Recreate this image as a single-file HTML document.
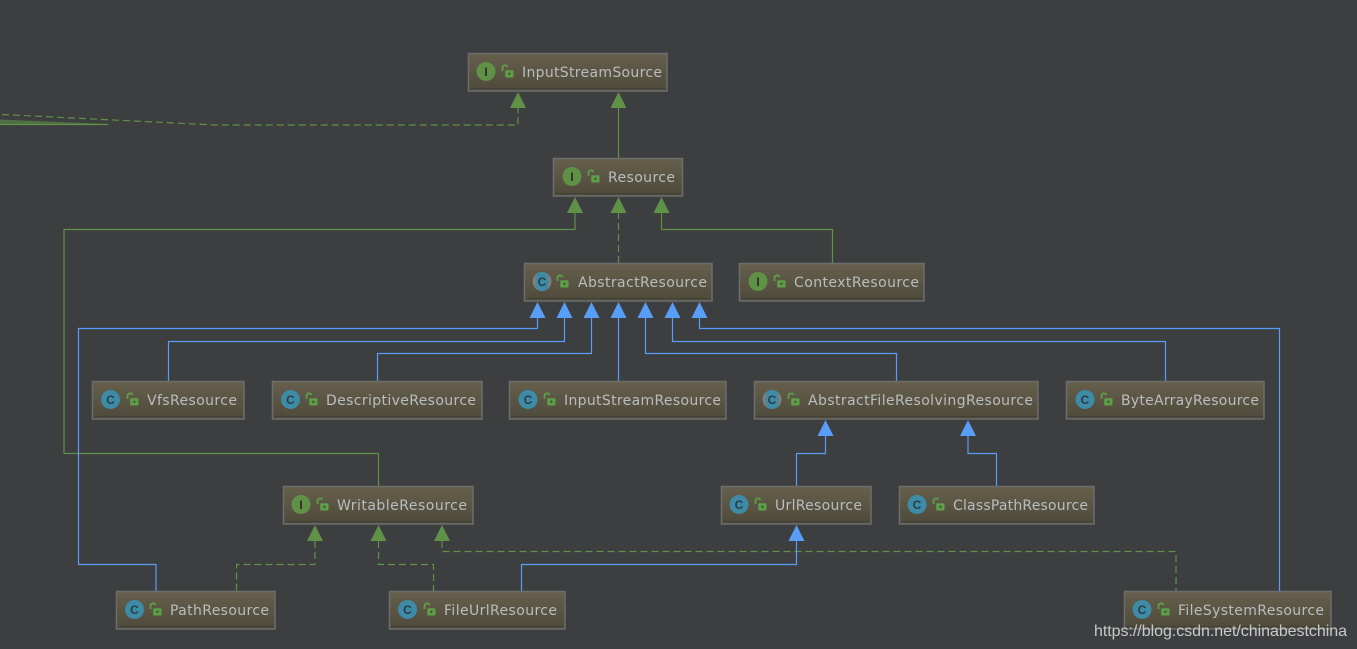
<!DOCTYPE html>
<html>
<head>
<meta charset="utf-8">
<style>
html,body{margin:0;padding:0;width:1357px;height:649px;overflow:hidden;background:#3c3e40}
svg{display:block}
.n{font-family:"DejaVu Sans",sans-serif;font-size:14px;fill:#b9bdbf}
.g{fill:none;stroke:#5f9147;stroke-width:1.2}
.gd{fill:none;stroke:#5f9147;stroke-width:1.2;stroke-dasharray:7 4}
.b{fill:none;stroke:#589df6;stroke-width:1.2}
.ga{fill:#5f9147}
.ba{fill:#589df6}
.box{fill:url(#bg);stroke:#6c6e6e;stroke-width:1.5}
.ic{fill:#5f9147}
.cc{fill:#3d8ba6}
.t{font-family:"Liberation Sans",sans-serif;font-size:12px;font-weight:bold;text-anchor:middle}
.band{fill:none;stroke:#444238;stroke-width:1}
</style>
</head>
<body>
<svg width="1357" height="649" viewBox="0 0 1357 649" xmlns="http://www.w3.org/2000/svg">
<defs>
<linearGradient id="bg" x1="0" y1="0" x2="0" y2="1">
<stop offset="0" stop-color="#665f4c"/>
<stop offset="1" stop-color="#4e4a3b"/>
</linearGradient>
<g id="lock">
<path d="M-5.500 -1 v-3.200 a2.600 2.600 0 0 1 5 -0.800" fill="none" stroke="#5f9e48" stroke-width="1.800"/>
<rect x="-2.800" y="-1.800" width="8.300" height="7.300" rx="1" fill="#5f9e48"/>
<rect x="0.500" y="0.700" width="1.800" height="2.200" fill="#3f4a35"/>
</g>
</defs>
<rect width="1357" height="649" fill="#3c3e40"/>

<!-- left stray lines -->
<path class="gd" d="M2 114.500 L215 125 H518 V108"/>
<path d="M0 119.500 L108 124 L108 125 L0 125Z" fill="#5f9147" opacity="0.6"/>
<path class="g" d="M0 124.500H108"/>

<!-- green connectors -->
<path class="g" d="M618.500 158V108"/>
<path class="g" d="M378.500 486V453.500H64V229.500H575V213"/>
<path class="gd" d="M618.500 263V213"/>
<path class="g" d="M661.500 213V229.500H832.500V263"/>
<path class="gd" d="M315 541V564.500H236.500V591"/>
<path class="gd" d="M378.500 541V564.500H433.500V591"/>
<path class="gd" d="M442 541V551.500H1176V591"/>

<!-- blue connectors -->
<path class="b" d="M537.500 318V328.500H78.500V564.500H156V591"/>
<path class="b" d="M564.500 318V341.500H168.500V381"/>
<path class="b" d="M591.500 318V353.500H377.500V381"/>
<path class="b" d="M618.500 318V381"/>
<path class="b" d="M645.500 318V353.500H896.500V381"/>
<path class="b" d="M672.500 318V341.500H1165.500V381"/>
<path class="b" d="M699.500 318V328.500H1279.500V591"/>
<path class="b" d="M825.500 436V453.500H796.500V486"/>
<path class="b" d="M968 436V453.500H996.500V486"/>
<path class="b" d="M796.500 541V564.500H521.500V591"/>

<!-- green arrowheads -->
<g class="ga">
<path d="M518 92l8 16h-16z"/>
<path d="M618.500 92l8 16h-16z"/>
<path d="M575 197l8 16h-16z"/>
<path d="M618.500 197l8 16h-16z"/>
<path d="M661.500 197l8 16h-16z"/>
<path d="M315 525l8 16h-16z"/>
<path d="M378.500 525l8 16h-16z"/>
<path d="M442 525l8 16h-16z"/>
</g>
<!-- blue arrowheads -->
<g class="ba">
<path d="M537.500 302l8 16h-16z"/>
<path d="M564.500 302l8 16h-16z"/>
<path d="M591.500 302l8 16h-16z"/>
<path d="M618.500 302l8 16h-16z"/>
<path d="M645.500 302l8 16h-16z"/>
<path d="M672.500 302l8 16h-16z"/>
<path d="M699.500 302l8 16h-16z"/>
<path d="M825.500 420l8 16h-16z"/>
<path d="M968 420l8 16h-16z"/>
<path d="M796.500 525l8 16h-16z"/>
</g>

<!-- InputStreamSource -->
<rect class="box" x="468.500" y="53.500" width="198.500" height="37.500"/>
<path class="band" d="M470 88.500H666"/>
<circle class="ic" cx="486" cy="71.500" r="9.500"/><text class="t" x="486" y="76" fill="#2b2b2b">I</text>
<use href="#lock" x="508" y="72"/>
<text class="n" x="522" y="77" textLength="140">InputStreamSource</text>

<!-- Resource -->
<rect class="box" x="553.500" y="158.500" width="129" height="37.500"/>
<path class="band" d="M555 193.500H681"/>
<circle class="ic" cx="572" cy="176.500" r="9.500"/><text class="t" x="572" y="181" fill="#2b2b2b">I</text>
<use href="#lock" x="594" y="177"/>
<text class="n" x="608" y="182" textLength="67">Resource</text>

<!-- AbstractResource -->
<rect class="box" x="524.500" y="263.500" width="187.500" height="37.500"/>
<path class="band" d="M526 298.500H711"/>
<circle cx="542" cy="281.500" r="9.500" fill="#7c7f81"/><rect class="cc" x="536" y="272" width="12" height="19" rx="5"/><text class="t" x="542" y="286" fill="#2c3c44">C</text>
<use href="#lock" x="563" y="282"/>
<text class="n" x="578" y="287" textLength="129">AbstractResource</text>

<!-- ContextResource -->
<rect class="box" x="739.500" y="263.500" width="184.500" height="37.500"/>
<path class="band" d="M741 298.500H923"/>
<circle class="ic" cx="758" cy="281.500" r="9.500"/><text class="t" x="758" y="286" fill="#2b2b2b">I</text>
<use href="#lock" x="780" y="282"/>
<text class="n" x="794" y="287" textLength="125">ContextResource</text>

<!-- VfsResource -->
<rect class="box" x="92.500" y="381.500" width="151.500" height="37.500"/>
<path class="band" d="M94 416.500H243"/>
<circle class="cc" cx="110.500" cy="399.500" r="9.500"/><text class="t" x="110.500" y="404" fill="#2c3c44">C</text>
<use href="#lock" x="133" y="400"/>
<text class="n" x="147" y="405" textLength="90">VfsResource</text>

<!-- DescriptiveResource -->
<rect class="box" x="272.500" y="381.500" width="209.500" height="37.500"/>
<path class="band" d="M274 416.500H481"/>
<circle class="cc" cx="290.500" cy="399.500" r="9.500"/><text class="t" x="290.500" y="404" fill="#2c3c44">C</text>
<use href="#lock" x="312" y="400"/>
<text class="n" x="326" y="405" textLength="150">DescriptiveResource</text>

<!-- InputStreamResource -->
<rect class="box" x="509.500" y="381.500" width="216.500" height="37.500"/>
<path class="band" d="M511 416.500H725"/>
<circle class="cc" cx="528" cy="399.500" r="9.500"/><text class="t" x="528" y="404" fill="#2c3c44">C</text>
<use href="#lock" x="550" y="400"/>
<text class="n" x="564" y="405" textLength="157">InputStreamResource</text>

<!-- AbstractFileResolvingResource -->
<rect class="box" x="754.500" y="381.500" width="283.500" height="37.500"/>
<path class="band" d="M756 416.500H1037"/>
<circle cx="772" cy="399.500" r="9.500" fill="#7c7f81"/><rect class="cc" x="766" y="390" width="12" height="19" rx="5"/><text class="t" x="772" y="404" fill="#2c3c44">C</text>
<use href="#lock" x="794" y="400"/>
<text class="n" x="808" y="405" textLength="225">AbstractFileResolvingResource</text>

<!-- ByteArrayResource -->
<rect class="box" x="1066.500" y="381.500" width="197.500" height="37.500"/>
<path class="band" d="M1068 416.500H1263"/>
<circle class="cc" cx="1085" cy="399.500" r="9.500"/><text class="t" x="1085" y="404" fill="#2c3c44">C</text>
<use href="#lock" x="1107" y="400"/>
<text class="n" x="1121" y="405" textLength="138">ByteArrayResource</text>

<!-- WritableResource -->
<rect class="box" x="283.500" y="486.500" width="189.500" height="37.500"/>
<path class="band" d="M285 521.500H472"/>
<circle class="ic" cx="301" cy="504.500" r="9.500"/><text class="t" x="301" y="509" fill="#2b2b2b">I</text>
<use href="#lock" x="323" y="505"/>
<text class="n" x="337" y="510" textLength="130">WritableResource</text>

<!-- UrlResource -->
<rect class="box" x="721.500" y="486.500" width="149.500" height="37.500"/>
<path class="band" d="M723 521.500H870"/>
<circle class="cc" cx="739" cy="504.500" r="9.500"/><text class="t" x="739" y="509" fill="#2c3c44">C</text>
<use href="#lock" x="761" y="505"/>
<text class="n" x="775" y="510" textLength="87">UrlResource</text>

<!-- ClassPathResource -->
<rect class="box" x="899.500" y="486.500" width="194.500" height="37.500"/>
<path class="band" d="M901 521.500H1093"/>
<circle class="cc" cx="917" cy="504.500" r="9.500"/><text class="t" x="917" y="509" fill="#2c3c44">C</text>
<use href="#lock" x="939" y="505"/>
<text class="n" x="953" y="510" textLength="135">ClassPathResource</text>

<!-- PathResource -->
<rect class="box" x="116.500" y="591.500" width="158.500" height="37.500"/>
<path class="band" d="M118 626.500H274"/>
<circle class="cc" cx="134.500" cy="609.500" r="9.500"/><text class="t" x="134.500" y="614" fill="#2c3c44">C</text>
<use href="#lock" x="156" y="610"/>
<text class="n" x="170" y="615" textLength="99">PathResource</text>

<!-- FileUrlResource -->
<rect class="box" x="389.500" y="591.500" width="175.500" height="37.500"/>
<path class="band" d="M391 626.500H564"/>
<circle class="cc" cx="407.500" cy="609.500" r="9.500"/><text class="t" x="407.500" y="614" fill="#2c3c44">C</text>
<use href="#lock" x="430" y="610"/>
<text class="n" x="444" y="615" textLength="113">FileUrlResource</text>

<!-- FileSystemResource -->
<rect class="box" x="1124.500" y="591.500" width="206.500" height="37.500"/>
<path class="band" d="M1126 626.500H1330"/>
<circle class="cc" cx="1142" cy="609.500" r="9.500"/><text class="t" x="1142" y="614" fill="#2c3c44">C</text>
<use href="#lock" x="1164" y="610"/>
<text class="n" x="1178" y="615" textLength="146">FileSystemResource</text>

<!-- watermark -->
<text x="1094" y="636" font-family="'Liberation Sans',sans-serif" font-size="16" fill="#c9c9c9" textLength="253" style="filter:blur(.3px)">https://blog.csdn.net/chinabestchina</text>
</svg>
</body>
</html>
